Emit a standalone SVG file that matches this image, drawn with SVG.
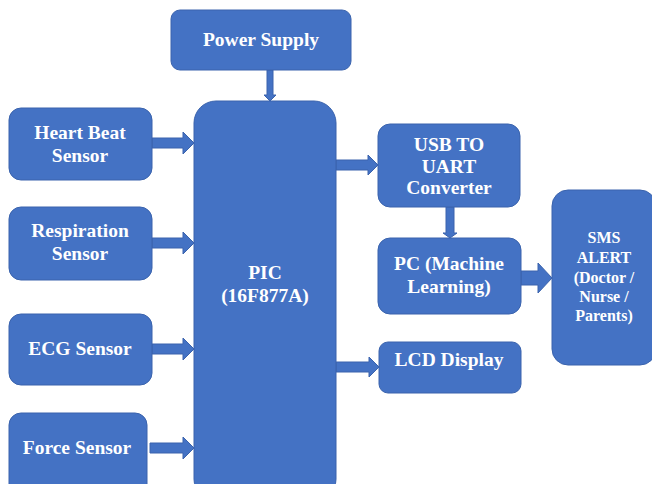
<svg xmlns="http://www.w3.org/2000/svg" width="652" height="484" viewBox="0 0 652 484">
<style>
.box{fill:#4472C4;stroke:#3A63AD;stroke-width:1}
.arr{fill:#4472C4;stroke:#3A63AD;stroke-width:1}
.t{font-family:'Liberation Serif','Times New Roman',serif;font-weight:bold;fill:#FFFFFF;text-anchor:middle;font-size:19.5px}
.s{font-size:16px}
</style>
<rect width="652" height="484" fill="#FFFFFF"/>
<g id="connectors">
<polygon class="arr" points="267,70 273,70 273,95 276,95 270,101 264,95 267,95"/>
<polygon class="arr" points="152,138 183,138 183,132 194,143 183,154 183,148 152,148"/>
<polygon class="arr" points="152,238 183,238 183,232 194,243 183,254 183,248 152,248"/>
<polygon class="arr" points="152,344 183,344 183,338 194,349 183,360 183,354 152,354"/>
<polygon class="arr" points="150,443 183,443 183,437 194,448 183,459 183,453 150,453"/>
<polygon class="arr" points="336,160 368,160 368,155 378,165 368,175 368,170 336,170"/>
<polygon class="arr" points="336,362 369,362 369,357 379,367 369,377 369,372 336,372"/>
<polygon class="arr" points="446,207 454,207 454,233 457,233 450,238 443,233 446,233"/>
<polygon class="arr" points="521,271 538,271 538,263 552,278 538,293 538,285 521,285"/>
</g>
<g class="t" font-family="Liberation Serif, serif">
<g id="power">
<rect class="box" x="171" y="10" width="180" height="60" rx="9"/>
<text x="261" y="46">Power Supply</text>
</g>
<g id="heartbeat">
<rect class="box" x="9" y="108" width="143" height="72" rx="12"/>
<text x="80" y="139">Heart Beat</text>
<text x="80" y="162">Sensor</text>
</g>
<g id="respiration">
<rect class="box" x="9" y="207" width="143" height="73" rx="12"/>
<text x="80" y="237">Respiration</text>
<text x="80" y="260">Sensor</text>
</g>
<g id="ecg">
<rect class="box" x="9" y="314" width="143" height="71" rx="12"/>
<text x="80" y="355">ECG Sensor</text>
</g>
<g id="force">
<rect class="box" x="9" y="413" width="138" height="85" rx="12"/>
<text x="77" y="454">Force Sensor</text>
</g>
<g id="pic">
<rect class="box" x="194" y="101" width="142" height="400" rx="22"/>
<text x="265" y="279">PIC</text>
<text x="265" y="302">(16F877A)</text>
</g>
<g id="usb">
<rect class="box" x="378" y="124" width="142" height="83" rx="12"/>
<text x="449" y="151">USB TO</text>
<text x="449" y="173">UART</text>
<text x="449" y="194">Converter</text>
</g>
<g id="pc">
<rect class="box" x="378" y="238" width="143" height="76" rx="12"/>
<text x="449" y="270">PC (Machine</text>
<text x="449" y="293">Learning)</text>
</g>
<g id="lcd">
<rect class="box" x="379" y="342" width="142" height="51" rx="9"/>
<text x="449" y="366">LCD Display</text>
</g>
<g id="sms">
<rect class="box" x="552" y="190" width="104" height="175" rx="16"/>
<text class="s" x="604" y="243">SMS</text>
<text class="s" x="604" y="263">ALERT</text>
<text class="s" x="604" y="283">(Doctor /</text>
<text class="s" x="604" y="302">Nurse /</text>
<text class="s" x="604" y="321">Parents)</text>
</g>
</g>
</svg>
